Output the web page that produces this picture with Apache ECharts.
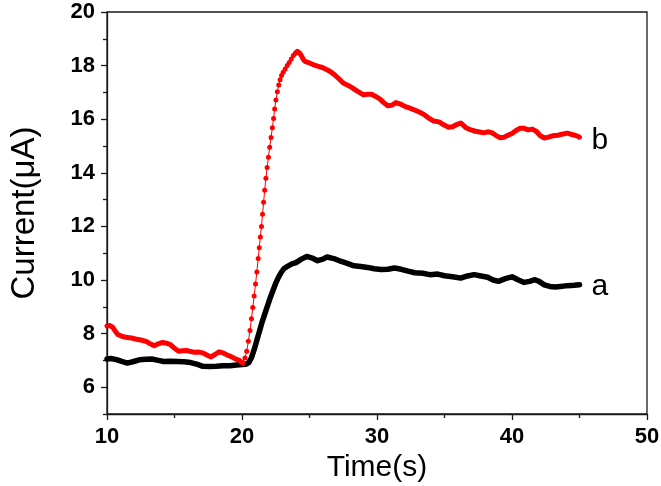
<!DOCTYPE html>
<html><head><meta charset="utf-8">
<script src="https://cdn.jsdelivr.net/npm/echarts@6/dist/echarts.min.js"></script>
<style>html,body{margin:0;padding:0;background:#fff}#c{width:661px;height:486px}</style>
</head><body><div id="c"></div>
<script>
// Curve a (black)
var aTime = [10.0,10.3,10.7,11.1,11.5,11.9,12.4,12.9,13.3,13.8,14.2,14.7,15.2,15.7,16.2,16.7,17.1,17.6,18.1,18.6,19.1,19.6,20.0,20.3,20.5,20.7,20.9,21.1,21.3,21.5,21.7,21.9,22.1,22.3,22.5,22.7,22.9,23.1,23.4,23.7,24.0,24.4,24.8,25.2,25.6,26.0,26.3,26.8,27.3,27.8,28.3,28.8,29.3,29.8,30.3,30.8,31.3,31.8,32.3,32.8,33.4,33.9,34.5,35.0,35.6,36.2,36.7,37.2,37.7,38.2,38.6,39.0,39.5,40.0,40.4,40.9,41.3,41.7,42.0,42.4,42.8,43.2,43.6,44.1,44.6,45.0];
var aCurrent = [7.05,7.07,7.03,6.96,6.90,6.95,7.02,7.04,7.05,7.00,6.96,6.97,6.96,6.95,6.92,6.85,6.78,6.77,6.78,6.80,6.80,6.83,6.85,6.86,6.92,7.1,7.4,7.75,8.1,8.45,8.75,9.05,9.35,9.62,9.88,10.1,10.28,10.42,10.52,10.6,10.65,10.78,10.88,10.82,10.72,10.78,10.86,10.80,10.70,10.62,10.53,10.50,10.47,10.42,10.39,10.40,10.45,10.40,10.33,10.27,10.25,10.20,10.22,10.16,10.12,10.07,10.15,10.20,10.15,10.10,10.00,9.95,10.05,10.12,10.02,9.91,9.95,10.01,9.95,9.82,9.76,9.74,9.76,9.79,9.80,9.82];
// Curve b (red)
var bTime = [10.0,10.2,10.4,10.6,10.8,11.1,11.4,11.8,12.1,12.5,12.9,13.2,13.5,13.8,14.1,14.4,14.7,15.0,15.3,15.6,15.9,16.2,16.5,16.8,17.1,17.4,17.7,18.0,18.3,18.6,18.9,19.2,19.5,19.8,20.05,
 20.22,20.35,20.47,20.59,20.70,20.80,20.90,21.00,21.10,21.20,21.28,21.36,21.44,21.52,21.60,21.68,21.77,21.86,21.96,22.05,22.15,22.25,22.34,22.42,22.51,22.62,22.72,22.82,22.93,23.05,23.2,23.35,23.5,23.65,23.8,23.95,
 24.1,24.25,24.4,24.55,24.7,25.0,25.3,25.6,26.0,26.4,26.8,27.2,27.5,27.9,28.2,28.6,29.0,29.3,29.6,29.9,30.2,30.5,30.8,31.1,31.4,31.8,32.1,32.5,32.8,33.2,33.5,33.9,34.2,34.6,34.9,35.3,35.6,35.9,36.2,36.6,36.9,37.3,37.6,37.9,38.2,38.5,38.8,39.1,39.4,39.7,40.0,40.3,40.6,40.9,41.2,41.5,41.8,42.1,42.4,42.7,43.0,43.4,43.8,44.1,44.5,44.8,45.0];
var bCurrent = [8.28,8.30,8.25,8.10,7.97,7.90,7.86,7.84,7.80,7.76,7.71,7.62,7.55,7.62,7.67,7.64,7.59,7.45,7.34,7.36,7.37,7.33,7.30,7.31,7.28,7.20,7.13,7.22,7.32,7.28,7.20,7.14,7.06,7.00,6.90,
 7.09,7.34,7.71,8.12,8.55,8.97,9.40,9.85,10.30,10.80,11.20,11.60,12.00,12.45,12.90,13.35,13.80,14.20,14.58,14.95,15.32,15.68,16.03,16.38,16.72,17.02,17.28,17.47,17.63,17.75,17.87,18.0,18.12,18.25,18.38,18.46,
 18.53,18.48,18.37,18.22,18.15,18.10,18.03,17.98,17.92,17.82,17.68,17.50,17.35,17.25,17.16,17.03,16.91,16.93,16.93,16.85,16.76,16.62,16.50,16.52,16.62,16.55,16.47,16.40,16.34,16.25,16.17,16.02,15.93,15.90,15.80,15.70,15.72,15.80,15.86,15.68,15.61,15.55,15.52,15.49,15.53,15.50,15.40,15.31,15.33,15.40,15.47,15.58,15.66,15.66,15.60,15.63,15.55,15.38,15.30,15.33,15.38,15.40,15.45,15.48,15.42,15.38,15.33];
var riseStart = 20.05, riseEnd = 23.95;
var xTicks = [10,20,30,40,50];
var yTickLabels = [6,8,10,12,14,16,18,20];
var yMinorTicks = [5,7,9,11,13,15,17,19];

function pairs(t, v, lo, hi) {
  var out = [];
  for (var i = 0; i < t.length; i++) if (t[i] >= lo && t[i] <= hi) out.push([t[i], v[i]]);
  return out;
}
var font = 'Liberation Sans, Arial, sans-serif';
var chart = echarts.init(document.getElementById('c'), null, {renderer: 'canvas'});
var axisCol = '#1a1a1a';
chart.setOption({
  animation: false,
  backgroundColor: '#fff',
  grid: {left: 107, right: 14, top: 12, bottom: 72, show: true, borderColor: axisCol, borderWidth: 1.3, outerBoundsMode: 'none'},
  xAxis: {
    type: 'value', min: 10, max: 50, interval: 10,
    name: 'Time(s)', nameLocation: 'middle', nameGap: 37,
    nameTextStyle: {fontFamily: font, fontSize: 30, color: '#000'},
    axisLine: {show: true, onZero: false, lineStyle: {color: axisCol, width: 1.3}},
    axisTick: {show: true, inside: false, length: 6, lineStyle: {color: axisCol, width: 1.3}},
    minorTick: {show: true, splitNumber: 2, length: 4, lineStyle: {color: axisCol, width: 1.3}},
    axisLabel: {fontFamily: font, fontSize: 22, fontWeight: 'bold', color: '#000', margin: 12,
      customValues: xTicks},
    splitLine: {show: false}, minorSplitLine: {show: false}
  },
  yAxis: [{
    type: 'value', min: 5, max: 20, interval: 1,
    name: 'Current(\u03bcA)', nameLocation: 'middle', nameGap: 66, nameRotate: 90,
    nameTextStyle: {fontFamily: font, fontSize: 33, color: '#000'},
    axisLine: {show: true, onZero: false, lineStyle: {color: axisCol, width: 1.3}},
    axisTick: {show: true, inside: false, length: 6, customValues: yTickLabels, lineStyle: {color: axisCol, width: 1.3}},
    axisLabel: {fontFamily: font, fontSize: 22, fontWeight: 'bold', color: '#000', margin: 12, customValues: yTickLabels},
    splitLine: {show: false}
  }, {
    type: 'value', min: 5, max: 20, interval: 1, position: 'left',
    axisLine: {show: false},
    axisTick: {show: true, inside: false, length: 4, customValues: yMinorTicks, lineStyle: {color: axisCol, width: 1.3}},
    axisLabel: {show: false},
    splitLine: {show: false}
  }],
  series: [
    {type: 'line', name: 'a', data: pairs(aTime, aCurrent, 0, 100), showSymbol: false, z: 2,
      lineStyle: {color: '#000', width: 5.5, cap: 'round', join: 'round'}, itemStyle: {color: '#000'},
      endLabel: {show: true, formatter: 'a', fontFamily: font, fontSize: 30, color: '#000', distance: 12, offset: [0, 2]}},
    {type: 'line', name: 'b1', data: pairs(bTime, bCurrent, 0, riseStart), showSymbol: false, z: 3,
      lineStyle: {color: '#ff0000', width: 5, cap: 'round', join: 'round'}, itemStyle: {color: '#ff0000'}},
    {type: 'line', name: 'b2', data: pairs(bTime, bCurrent, riseStart, riseEnd), showSymbol: true, symbol: 'circle', symbolSize: 5, z: 3,
      lineStyle: {color: '#ff0000', width: 1}, itemStyle: {color: '#ff0000'}},
    {type: 'line', name: 'b3', data: pairs(bTime, bCurrent, riseEnd, 100), showSymbol: false, z: 3,
      lineStyle: {color: '#ff0000', width: 5, cap: 'round', join: 'round'}, itemStyle: {color: '#ff0000'},
      endLabel: {show: true, formatter: 'b', fontFamily: font, fontSize: 30, color: '#000', distance: 12, offset: [0, 4]}}
  ]
});
</script></body></html>
